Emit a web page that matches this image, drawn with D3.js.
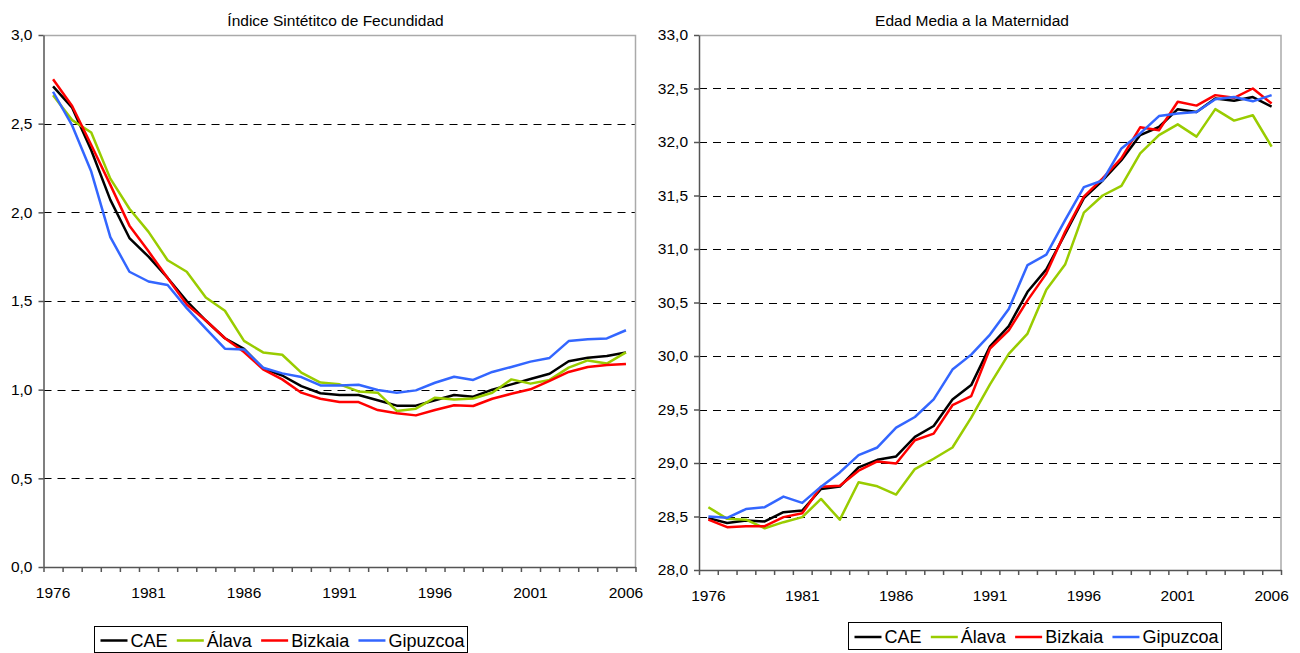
<!DOCTYPE html>
<html>
<head>
<meta charset="utf-8">
<script src="https://cdn.jsdelivr.net/npm/d3@7"></script>
<style>
  body { margin: 0; background: #fff; }
  svg { display: block; font-family: 'Liberation Sans', Arial, sans-serif; }
  .grid line { stroke: #000; stroke-width: 1; stroke-dasharray: 8,6; }
  .axis path, .axis line { stroke: #555; stroke-width: 1.5; }
  .axis text { fill: #000; font-size: 15.5px; }
  .border { fill: none; stroke: #aaa; stroke-width: 1.5; }
  .title { font-size: 15.5px; text-anchor: middle; }
  .legend text { font-size: 18px; }
</style>
</head>
<body>
<svg id="chart" width="1300" height="653"></svg>
<script>
const years = [1976, 1977, 1978, 1979, 1980, 1981, 1982, 1983, 1984, 1985,
  1986, 1987, 1988, 1989, 1990, 1991, 1992, 1993, 1994, 1995,
  1996, 1997, 1998, 1999, 2000, 2001, 2002, 2003, 2004, 2005, 2006]
const yearLabels = [1976, 1981, 1986, 1991, 1996, 2001, 2006]

const seriesNames = ['CAE', 'Álava', 'Bizkaia', 'Gipuzcoa']
const seriesColors = ['#000000', '#99cc00', '#ff0000', '#3366ff']

// Índice Sintético de Fecundidad
const isfCAE = [2.71, 2.59, 2.35, 2.07, 1.855, 1.75, 1.63, 1.50, 1.39, 1.29,
  1.23, 1.12, 1.08, 1.02, 0.98, 0.97, 0.97, 0.94, 0.91, 0.91,
  0.94, 0.97, 0.96, 1.00, 1.03, 1.06, 1.09, 1.16, 1.18, 1.19, 1.21]
const isfAlava = [2.66, 2.52, 2.45, 2.19, 2.02, 1.89, 1.73, 1.665, 1.52, 1.445,
  1.275, 1.21, 1.197, 1.096, 1.04, 1.03, 0.99, 0.983, 0.88, 0.893,
  0.955, 0.945, 0.95, 0.983, 1.058, 1.034, 1.055, 1.124, 1.165, 1.147, 1.21]
const isfBizkaia = [2.75, 2.60, 2.38, 2.155, 1.925, 1.78, 1.63, 1.48, 1.39, 1.29,
  1.212, 1.115, 1.058, 0.983, 0.949, 0.93, 0.93, 0.885, 0.867, 0.855,
  0.885, 0.912, 0.908, 0.949, 0.977, 1.002, 1.049, 1.10, 1.128, 1.139, 1.145]
const isfGipuzcoa = [2.68, 2.49, 2.23, 1.86, 1.665, 1.61, 1.59, 1.46, 1.344, 1.231,
  1.227, 1.124, 1.092, 1.071, 1.024, 1.024, 1.028, 0.998, 0.983, 0.996,
  1.039, 1.073, 1.055, 1.10, 1.128, 1.158, 1.179, 1.274, 1.284, 1.289, 1.335]
const isfTicks = [0, 0.5, 1, 1.5, 2, 2.5, 3]

// Edad Media a la Maternidad
const emmCAE = [28.485, 28.44, 28.463, 28.454, 28.54, 28.556, 28.757, 28.78, 28.959, 29.03,
  29.061, 29.244, 29.346, 29.594, 29.728, 30.09, 30.28, 30.6, 30.81, 31.14,
  31.475, 31.64, 31.83, 32.065, 32.14, 32.307, 32.28, 32.407, 32.385, 32.42, 32.33]
const emmAlava = [28.587, 28.478, 28.47, 28.39, 28.447, 28.494, 28.664, 28.47, 28.82, 28.782,
  28.705, 28.943, 29.04, 29.145, 29.424, 29.734, 30.02, 30.21, 30.62, 30.854,
  31.34, 31.5, 31.59, 31.894, 32.065, 32.165, 32.05, 32.307, 32.2, 32.25, 31.957]
const emmBizkaia = [28.47, 28.40, 28.41, 28.41, 28.494, 28.53, 28.779, 28.788, 28.928, 29.015,
  28.996, 29.213, 29.275, 29.54, 29.625, 30.07, 30.24, 30.52, 30.77, 31.16,
  31.49, 31.66, 31.85, 32.137, 32.11, 32.376, 32.34, 32.438, 32.413, 32.50, 32.36]
const emmGipuzcoa = [28.50, 28.488, 28.57, 28.587, 28.686, 28.627, 28.779, 28.912, 29.073, 29.145,
  29.33, 29.43, 29.594, 29.873, 30.013, 30.2, 30.44, 30.85, 30.947, 31.27,
  31.578, 31.64, 31.94, 32.08, 32.242, 32.267, 32.28, 32.40, 32.42, 32.38, 32.438]
const emmTicks = [28, 28.5, 29, 29.5, 30, 30.5, 31, 31.5, 32, 32.5, 33]

const svg = d3.select('#chart')
const fmt = d => d3.format('.1f')(d).replace('.', ',')

function drawPanel(settings) {
  const { left, top, width, height } = settings
  const g = svg.append('g').attr('transform', `translate(${left},${top})`)

  const x = d3.scaleBand().domain(years).range([0, width])
  const xEdges = d3.scaleLinear().domain([0, years.length]).range([0, width])
  const ticks = settings.ticks
  const y = d3.scaleLinear().domain([ticks[0], ticks[ticks.length - 1]]).range([height, 0])

  // dashed gridlines (not on the bottom axis nor the top border)
  g.append('g').attr('class', 'grid')
    .selectAll('line').data(ticks.slice(1, -1))
    .enter().append('line')
      .attr('x1', 0)
      .attr('x2', width)
      .attr('y1', d => Math.round(y(d)) + 0.5)
      .attr('y2', d => Math.round(y(d)) + 0.5)

  g.append('path')
    .attr('class', 'border')
    .attr('d', `M0,0.5H${width}V${height}`)

  g.append('text')
    .attr('class', 'title')
    .attr('x', settings.titleX)
    .attr('y', -9)
    .text(settings.title)

  // series
  const line = d3.line()
    .x((d, i) => x(years[i]) + x.bandwidth() / 2)
    .y(d => y(d))

  g.selectAll('path.series').data(settings.series)
    .enter().append('path')
      .attr('class', 'series')
      .attr('fill', 'none')
      .attr('stroke', (d, i) => seriesColors[i])
      .attr('stroke-width', 2.5)
      .attr('stroke-linejoin', 'round')
      .attr('d', line)

  // x axis: ticks between categories, labels every 5 years
  g.append('g')
    .attr('class', 'axis')
    .attr('transform', `translate(0,${height})`)
    .call(d3.axisBottom(xEdges).tickValues(d3.range(0, years.length + 1)).tickSize(5).tickSizeOuter(0).tickFormat(''))

  const xLabels = g.append('g')
    .attr('class', 'axis')
    .attr('transform', `translate(0,${height})`)
    .call(d3.axisBottom(x).tickValues(yearLabels).tickSize(0).tickPadding(20))
  xLabels.select('.domain').remove()

  g.append('g')
    .attr('class', 'axis')
    .call(d3.axisLeft(y).tickValues(ticks).tickSize(5).tickSizeOuter(0).tickPadding(6).tickFormat(fmt))

  drawLegend(settings.legend)
}

function drawLegend(box) {
  const lg = svg.append('g')
    .attr('class', 'legend')
    .attr('transform', `translate(${box.x},${box.y})`)

  lg.append('rect')
    .attr('width', box.w)
    .attr('height', box.h)
    .attr('fill', '#fff')
    .attr('stroke', '#000')
    .attr('stroke-width', 1)

  const items = lg.selectAll('g.item').data(seriesNames)
    .enter().append('g')
      .attr('class', 'item')

  items.append('line')
    .attr('x1', 0)
    .attr('x2', 27)
    .attr('y1', box.h / 2 + 1)
    .attr('y2', box.h / 2 + 1)
    .attr('stroke', (d, i) => seriesColors[i])
    .attr('stroke-width', 2.5)

  items.append('text')
    .attr('x', 30)
    .attr('y', box.h / 2 + 7)
    .text(d => d)

  // spread the items so the row fills the box
  const widths = items.nodes().map(n => 30 + n.querySelector('text').getComputedTextLength())
  const gap = (box.w - 6 - 3 - d3.sum(widths)) / (widths.length - 1)
  let prev = 6
  items.attr('transform', (d, i) => {
    const cur = prev
    prev = cur + widths[i] + gap
    return `translate(${cur},0)`
  })
}

drawPanel({
  left: 43.5, top: 35, width: 592, height: 532,
  ticks: isfTicks,
  title: 'Índice Sintétitco de Fecundidad',
  titleX: 292,
  series: [isfCAE, isfAlava, isfBizkaia, isfGipuzcoa],
  legend: { x: 94.5, y: 626.5, w: 373, h: 26 }
})

drawPanel({
  left: 699, top: 35, width: 582, height: 535,
  ticks: emmTicks,
  title: 'Edad Media a la Maternidad',
  titleX: 273,
  series: [emmCAE, emmAlava, emmBizkaia, emmGipuzcoa],
  legend: { x: 848.5, y: 622.5, w: 373, h: 27 }
})
</script>
</body>
</html>
